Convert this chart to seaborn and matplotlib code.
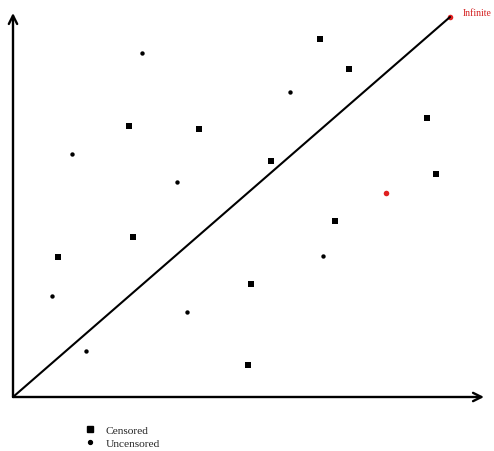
import pandas as pd
import matplotlib
matplotlib.use("Agg")
from matplotlib import pyplot as plt
from matplotlib.lines import Line2D
import seaborn as sns

sns.set_style("white")
plt.rcParams['font.family'] = ['Liberation Serif', 'DejaVu Serif']

# Censored points (squares)
censored_x = [307, 336, 116, 186, 258, 414, 423, 322, 120, 45, 238, 235]
censored_y = [358, 328, 271, 268, 236, 279, 223, 176, 160, 140, 113, 32]
# Uncensored points (circles)
uncensored_x = [129, 277, 59, 164, 310, 39, 174, 73]
uncensored_y = [344, 305, 243, 215, 141, 101, 85, 46]
# Red highlighted points
red_x = [373, 437]
red_y = [204, 380]
# Diagonal line end points
diag_x = [0, 437]
diag_y = [0, 380]

df_c = pd.DataFrame({"x": censored_x, "y": censored_y})
df_u = pd.DataFrame({"x": uncensored_x, "y": uncensored_y})
df_r = pd.DataFrame({"x": red_x, "y": red_y})
df_d = pd.DataFrame({"x": diag_x, "y": diag_y})

fig = plt.figure(figsize=(4.94, 4.52), dpi=100)
ax = fig.add_axes([0, 0, 1, 1])
ax.set_xlim(-13, 481)
ax.set_ylim(-54, 398)
ax.axis("off")

# Axes with arrows
ax.annotate("", xy=(0, 384), xytext=(0, 0),
            arrowprops=dict(arrowstyle="->", lw=1.7, color="black",
                            mutation_scale=15, shrinkA=0, shrinkB=0))
ax.annotate("", xy=(471, 0), xytext=(0, 0),
            arrowprops=dict(arrowstyle="->", lw=1.7, color="black",
                            mutation_scale=15, shrinkA=0, shrinkB=0))

sns.lineplot(data=df_d, x="x", y="y", color="black", lw=1.5, ax=ax)

sns.scatterplot(data=df_c, x="x", y="y", marker="s", s=18, color="black",
                linewidth=0, ax=ax)
sns.scatterplot(data=df_u, x="x", y="y", marker="o", s=10, color="black",
                linewidth=0, ax=ax)
sns.scatterplot(data=df_r, x="x", y="y", marker="o", s=16, color="#e02020",
                linewidth=0, ax=ax)

ax.text(450, 385, "Infinite", color="#d42020", fontsize=7, va="center", ha="left")

handles = [
    Line2D([], [], marker="s", ls="", color="black", markersize=3.8),
    Line2D([], [], marker="o", ls="", color="black", markersize=2.8),
]
ax.legend(handles, ["Censored", "Uncensored"], loc="upper left",
          bbox_to_anchor=(0.175, 0.058), frameon=False, fontsize=8.2,
          handlelength=0.7, handletextpad=0.95, labelspacing=0.32,
          borderpad=0, borderaxespad=0)

fig.savefig("out.png", dpi=100)
